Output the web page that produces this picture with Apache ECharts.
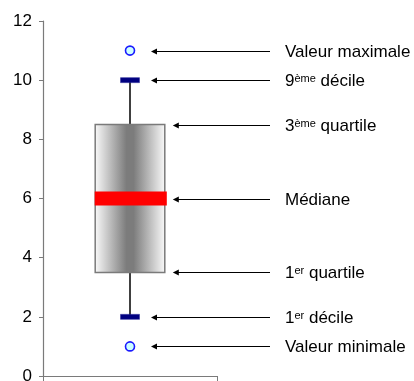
<!DOCTYPE html>
<html>
<head>
<meta charset="utf-8">
<script src="https://cdn.jsdelivr.net/npm/echarts@6/dist/echarts.min.js"></script>
<style>
  html, body { margin: 0; padding: 0; background: #ffffff; }
  #chart { width: 414px; height: 381px; }
</style>
</head>
<body>
<div id="chart"></div>
<script>
// Summary statistics of the distribution, one entry per box
const categories = ['Série'];
const minValues = [1];
const decile1Values = [2];
const quartile1Values = [3.5];
const medianValues = [6];
const quartile3Values = [8.5];
const decile9Values = [10];
const maxValues = [11];

// Y axis tick labels
const yTicks = [0, 2, 4, 6, 8, 10, 12];

// Annotation texts, from top to bottom (rich text: {sup|...} is a superscript)
const annotationTexts = [
  'Valeur maximale',
  '9{sup|ème} décile',
  '3{sup|ème} quartile',
  'Médiane',
  '1{sup|er} quartile',
  '1{sup|er} décile',
  'Valeur minimale'
];

const FONT = '"Liberation Sans", Arial, Helvetica, sans-serif';

// one row per box: [index, min, d1, q1, median, q3, d9, max]
const boxData = categories.map((c, i) => [
  i, minValues[i], decile1Values[i], quartile1Values[i], medianValues[i],
  quartile3Values[i], decile9Values[i], maxValues[i]
]);

function renderBox(params, api) {
  const idx = api.value(0);
  const vMin = api.value(1), vD1 = api.value(2), vQ1 = api.value(3), vMed = api.value(4),
        vQ3 = api.value(5), vD9 = api.value(6), vMax = api.value(7);
  const y = v => api.coord([idx, v])[1];
  const cx = api.coord([idx, 0])[0];
  const bandW = api.size([1, 0])[0];
  const half = bandW * 0.2;

  const children = [];

  // whiskers
  children.push({ type: 'line', shape: { x1: cx, y1: y(vD1), x2: cx, y2: y(vQ1) },
    style: { stroke: '#000000', lineWidth: 1.5 } });
  children.push({ type: 'line', shape: { x1: cx, y1: y(vQ3), x2: cx, y2: y(vD9) },
    style: { stroke: '#000000', lineWidth: 1.5 } });

  // box with a horizontal shaded gradient
  children.push({ type: 'rect',
    shape: { x: cx - half, y: y(vQ3), width: half * 2, height: y(vQ1) - y(vQ3) },
    style: {
      fill: new echarts.graphic.LinearGradient(0, 0, 1, 0, [
        { offset: 0, color: '#fbfbfb' },
        { offset: 0.45, color: '#7c7c7c' },
        { offset: 0.55, color: '#7c7c7c' },
        { offset: 1, color: '#fbfbfb' }
      ]),
      stroke: '#7a7a7a', lineWidth: 1.5
    } });

  // median band
  children.push({ type: 'rect',
    shape: { x: cx - half - 0.5, y: y(vMed) - 7, width: half * 2 + 2.5, height: 14 },
    style: { fill: '#ff0000' } });

  // decile caps
  [vD1, vD9].forEach(v => {
    children.push({ type: 'rect',
      shape: { x: cx - 9.5, y: y(v) - 2.5, width: 19, height: 5 },
      style: { fill: '#000080', stroke: '#2a2a9a', lineWidth: 0.5 } });
  });

  // extreme values
  [vMin, vMax].forEach(v => {
    children.push({ type: 'circle',
      shape: { cx: cx, cy: y(v), r: 4.5 },
      style: { fill: '#ccffff', stroke: '#1a1aff', lineWidth: 1.6 } });
  });

  // annotation arrows and texts
  const targets = [vMax, vD9, vQ3, vMed, vQ1, vD1, vMin];
  const onBox = [false, false, true, true, true, false, false];
  targets.forEach((v, k) => {
    const yy = Math.round(y(v)) + 0.5;
    const x0 = onBox[k] ? cx + half + 8 : cx + 21;
    const x1 = cx + 140;
    children.push({ type: 'line', shape: { x1: x0 + 5, y1: yy, x2: x1, y2: yy },
      style: { stroke: '#000000', lineWidth: 1 } });
    children.push({ type: 'polygon',
      shape: { points: [[x0, yy], [x0 + 6, yy - 3], [x0 + 6, yy + 3]] },
      style: { fill: '#000000' } });
    children.push({ type: 'text', x: cx + 155, y: yy + 1,
      style: {
        text: annotationTexts[k],
        fontSize: 17, fontFamily: FONT, fill: '#000000',
        align: 'left', verticalAlign: 'middle',
        rich: {
          sup: { fontSize: 11, fontFamily: FONT, fill: '#000000', verticalAlign: 'top' }
        }
      } });
  });

  return { type: 'group', children: children };
}

const chart = echarts.init(document.getElementById('chart'), null, { renderer: 'canvas' });
chart.setOption({
  animation: false,
  backgroundColor: '#ffffff',
  grid: { left: 43, right: 197, top: 21, bottom: 5, containLabel: false, outerBoundsMode: 'none' },
  xAxis: {
    type: 'category',
    data: categories,
    boundaryGap: true,
    axisLine: { show: true, lineStyle: { color: '#7a7a7a', width: 1.2 } },
    axisTick: { show: true, length: 5, lineStyle: { color: '#7a7a7a' } },
    axisLabel: { show: false },
    splitLine: { show: false }
  },
  yAxis: {
    type: 'value',
    min: yTicks[0],
    max: yTicks[yTicks.length - 1],
    interval: yTicks[1] - yTicks[0],
    axisLine: { show: true, lineStyle: { color: '#7a7a7a', width: 1.2 } },
    axisTick: { show: true, length: 4, lineStyle: { color: '#7a7a7a' } },
    axisLabel: { color: '#000000', fontSize: 17, fontFamily: FONT, margin: 11 },
    splitLine: { show: false }
  },
  series: [{
    type: 'custom',
    clip: false,
    renderItem: renderBox,
    data: boxData,
    encode: { x: 0, y: [1, 2, 3, 4, 5, 6, 7] }
  }]
});
</script>
</body>
</html>
